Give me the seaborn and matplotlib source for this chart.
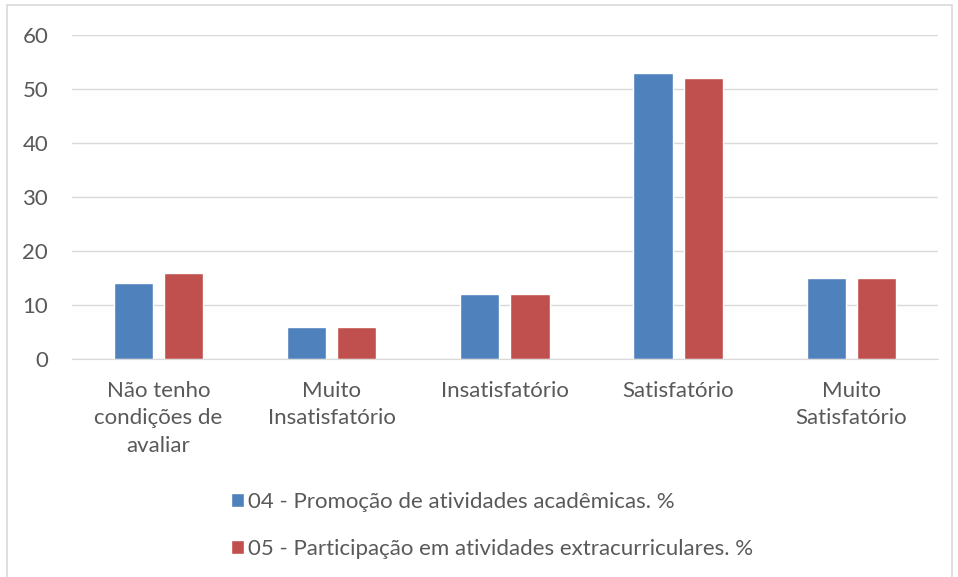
import pandas as pd
import seaborn as sns
import matplotlib.pyplot as plt
from matplotlib.patches import Rectangle

'''------------------------------ Data ------------------------------'''
categories = ['Não tenho\ncondições de\navaliar', 'Muito\nInsatisfatório', 'Insatisfatório',
              'Satisfatório', 'Muito\nSatisfatório']
series_names = ['04 - Promoção de atividades acadêmicas. %',
                '05 - Participação em atividades extracurriculares. %']
promocao = [14, 6, 12, 53, 15]
participacao = [16, 6, 12, 52, 15]
y_ticks = [0, 10, 20, 30, 40, 50, 60]

df = pd.DataFrame({
  'categoria': categories * 2,
  'serie': [series_names[0]] * len(categories) + [series_names[1]] * len(categories),
  'valor': promocao + participacao,
})

'''------------------------------ Style ------------------------------'''
sns.set_style("white")
plt.rcParams['font.family'] = ['Lato', 'DejaVu Sans']
text_col = '#595959'
grid_col = '#D9D9D9'
palette = sns.color_palette(['#4F81BD', '#C0504D'])
fsize = 16

fig = plt.figure(figsize=(9.58, 5.77), dpi=100)
ax = fig.add_axes([0.075, 0.378, 0.904, 0.561])

sns.barplot(data=df, x='categoria', y='valor', hue='serie', hue_order=series_names,
            order=categories, palette=palette, width=0.58, gap=0.22,
            saturation=1, ax=ax, legend=True)

ax.set_ylim(0, 60)
ax.set_yticks(y_ticks)
ax.set_xlim(-0.5, len(categories) - 0.5)
ax.yaxis.grid(True, color=grid_col, linewidth=1)
ax.set_axisbelow(True)
for s in ['top', 'right', 'left']:
  ax.spines[s].set_visible(False)
ax.spines['bottom'].set_color(grid_col)
ax.tick_params(axis='both', length=0, labelsize=fsize, colors=text_col)
ax.tick_params(axis='y', pad=17)
ax.tick_params(axis='x', pad=16)
for lbl in ax.get_xticklabels():
  lbl.set_linespacing(1.45)
ax.set_xlabel('')
ax.set_ylabel('')

handles, labels = ax.get_legend_handles_labels()
ax.get_legend().remove()
fig.legend(handles, labels, loc='upper left', bbox_to_anchor=(0.232, 0.163),
           frameon=False, fontsize=fsize, labelcolor=text_col,
           handlelength=0.6, handleheight=0.6, handletextpad=0.15,
           labelspacing=1.2, borderaxespad=0)

# light outer border of the chart area
fig.patches.append(Rectangle((7 / 958, -0.05), 945 / 958, 1.05 - 5 / 577,
                             transform=fig.transFigure, fill=False,
                             edgecolor=grid_col, linewidth=1.2))

fig.savefig('out.png', dpi=100)
